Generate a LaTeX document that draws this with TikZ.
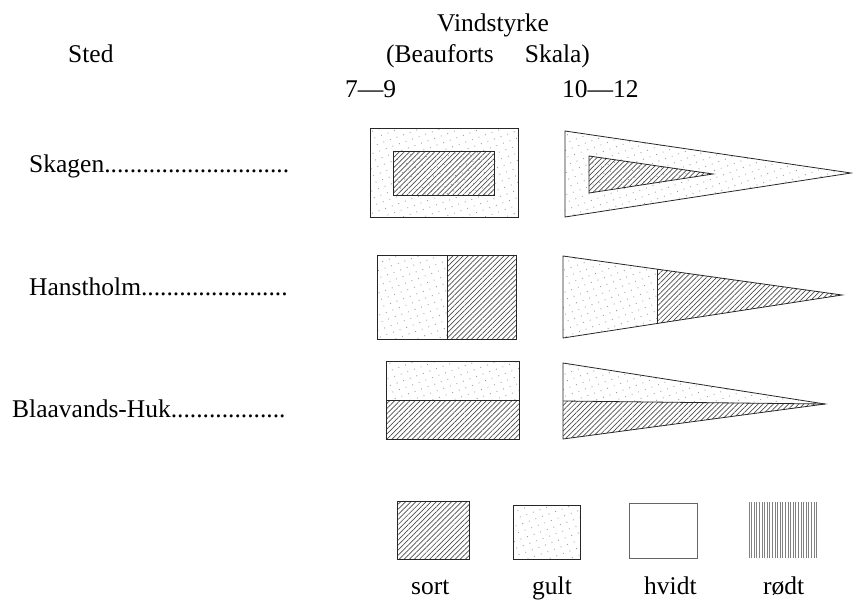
\documentclass[tikz,border=0pt]{standalone}
\usepackage{fontspec}
\setmainfont{Liberation Serif}
\usepackage{tikz}
\usetikzlibrary{positioning,calc,patterns.meta}

\begin{document}
\begin{tikzpicture}[
                x=1pt, y=-1pt,
                font=\fontsize{25.5}{30}\selectfont,
                txt/.style={anchor=base west, inner sep=0pt},
                border/.style={draw=black!85, line width=0.8pt},
                sortfill/.style={pattern={Lines[angle=45,distance=3.6pt,line width=0.7pt]}, pattern color=black!70},
                gultfill/.style={pattern={Dots[radius=0.6pt,distance=7pt,angle=20]}, pattern color=black!40},
                rodtfill/.style={pattern={Lines[angle=90,distance=2.6pt,line width=0.6pt]}, pattern color=black!50}
                ]
                \useasboundingbox (0,0) rectangle (853,602);

                % heading
                \node[txt] (vind) at (437,32) {Vindstyrke};
                \node[txt] (sted) at (68,63) {Sted};
                \node[txt] (skala) at (386,63) {(Beauforts\hspace{31pt}Skala)};
                \node[txt] (lav) at (345,97) {7---9};
                \node[txt] (hoej) at (562,97) {10---12};

                % stations
                \node[txt] (skagen) at (29,172) {Skagen.............................};
                \node[txt] (hanst) at (29,295) {Hanstholm.......................};
                \node[txt] (blaa) at (12,417) {Blaavands-Huk..................};

                % Skagen: yellow with black centre
                \path[gultfill] (370,128) rectangle (518,217);
                \draw[border] (370,128) rectangle (518,217);
                \path[sortfill] (393,151) rectangle (494,195);
                \draw[border] (393,151) rectangle (494,195);
                \path[gultfill] (565,131) -- (851,173) -- (565,217) -- cycle;
                \draw[border] (565,131) -- (851,173) -- (565,217) -- cycle;
                \path[sortfill] (589,156) -- (713,174) -- (589,193) -- cycle;
                \draw[border] (589,156) -- (713,174) -- (589,193) -- cycle;

                % Hanstholm: yellow | black
                \path[gultfill] (377,255) rectangle (447,339);
                \path[sortfill] (447,255) rectangle (516,339);
                \draw[border] (377,255) rectangle (516,339);
                \draw[border] (447,255) -- (447,339);
                \coordinate (h2a) at (563,256);
                \coordinate (h2b) at (563,338);
                \coordinate (h2tip) at (842,295);
                \coordinate (h2m1) at ($(h2a)!0.337!(h2tip)$);
                \coordinate (h2m2) at ($(h2b)!0.337!(h2tip)$);
                \path[gultfill] (h2a) -- (h2m1) -- (h2m2) -- (h2b) -- cycle;
                \path[sortfill] (h2m1) -- (h2tip) -- (h2m2) -- cycle;
                \draw[border] (h2a) -- (h2tip) -- (h2b) -- cycle;
                \draw[border] (h2m1) -- (h2m2);

                % Blaavands-Huk: yellow over black
                \path[gultfill] (386,361) rectangle (519,400);
                \path[sortfill] (386,400) rectangle (519,439);
                \draw[border] (386,361) rectangle (519,439);
                \draw[border] (386,400) -- (519,400);
                \coordinate (b3a) at (563,363);
                \coordinate (b3m) at (563,401);
                \coordinate (b3b) at (563,439);
                \coordinate (b3tip) at (825,404);
                \path[gultfill] (b3a) -- (b3tip) -- (b3m) -- cycle;
                \path[sortfill] (b3m) -- (b3tip) -- (b3b) -- cycle;
                \draw[border] (b3a) -- (b3tip) -- (b3b) -- cycle;
                \draw[border] (b3m) -- (b3tip);

                % legend
                \path[sortfill] (397,501) rectangle (469,559);
                \draw[border] (397,501) rectangle (469,559);
                \path[gultfill] (513,505) rectangle (580,559);
                \draw[border] (513,505) rectangle (580,559);
                \draw[border, draw=black!60] (629,503) rectangle (697,558);
                \path[rodtfill] (748,502) rectangle (817,557);

                \node[txt] (sort) at (411,594) {sort};
                \node[txt] (gult) at (532,594) {gult};
                \node[txt] (hvidt) at (644,594) {hvidt};
                \node[txt] (rodt) at (763,594) {rødt};
            \end{tikzpicture}
\end{document}
